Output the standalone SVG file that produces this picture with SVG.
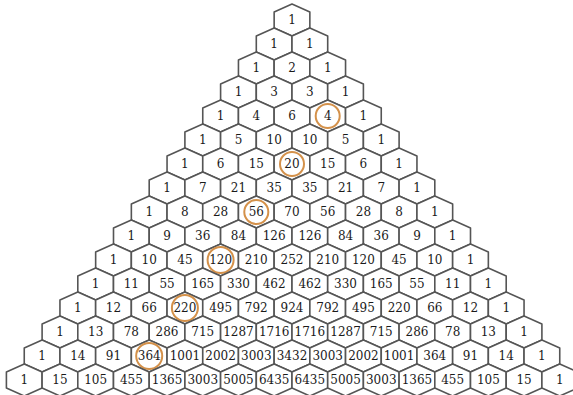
<svg xmlns="http://www.w3.org/2000/svg" xmlns:xlink="http://www.w3.org/1999/xlink" width="573" height="395" viewBox="0 0 573 395">
<style>
.h{fill:#fff;stroke:#555;stroke-width:1.6;stroke-linejoin:round}
.t{font-family:"DejaVu Serif","Liberation Serif",serif;font-size:12px;fill:#1a1a1a;text-anchor:middle}
.c{fill:none;stroke:#d4914a;stroke-width:2}
</style>
<defs>
<polygon id="hex" class="h" points="0,-16 17.85,-8 17.85,8 0,16 -17.85,8 -17.85,-8"/>
</defs>
<rect width="573" height="395" fill="#fff"/>
<g id="nodes">
<g id="n0-0" transform="translate(292,20)"><use xlink:href="#hex"/><text class="t" y="4.3">1</text></g>
<g id="n1-0" transform="translate(274.15,44)"><use xlink:href="#hex"/><text class="t" y="4.3">1</text></g>
<g id="n1-1" transform="translate(309.85,44)"><use xlink:href="#hex"/><text class="t" y="4.3">1</text></g>
<g id="n2-0" transform="translate(256.3,68)"><use xlink:href="#hex"/><text class="t" y="4.3">1</text></g>
<g id="n2-1" transform="translate(292,68)"><use xlink:href="#hex"/><text class="t" y="4.3">2</text></g>
<g id="n2-2" transform="translate(327.7,68)"><use xlink:href="#hex"/><text class="t" y="4.3">1</text></g>
<g id="n3-0" transform="translate(238.45,92)"><use xlink:href="#hex"/><text class="t" y="4.3">1</text></g>
<g id="n3-1" transform="translate(274.15,92)"><use xlink:href="#hex"/><text class="t" y="4.3">3</text></g>
<g id="n3-2" transform="translate(309.85,92)"><use xlink:href="#hex"/><text class="t" y="4.3">3</text></g>
<g id="n3-3" transform="translate(345.55,92)"><use xlink:href="#hex"/><text class="t" y="4.3">1</text></g>
<g id="n4-0" transform="translate(220.6,116)"><use xlink:href="#hex"/><text class="t" y="4.3">1</text></g>
<g id="n4-1" transform="translate(256.3,116)"><use xlink:href="#hex"/><text class="t" y="4.3">4</text></g>
<g id="n4-2" transform="translate(292,116)"><use xlink:href="#hex"/><text class="t" y="4.3">6</text></g>
<g id="n4-3" transform="translate(327.7,116)"><use xlink:href="#hex"/><circle class="c" r="12"/><text class="t" y="4.3">4</text></g>
<g id="n4-4" transform="translate(363.4,116)"><use xlink:href="#hex"/><text class="t" y="4.3">1</text></g>
<g id="n5-0" transform="translate(202.75,140)"><use xlink:href="#hex"/><text class="t" y="4.3">1</text></g>
<g id="n5-1" transform="translate(238.45,140)"><use xlink:href="#hex"/><text class="t" y="4.3">5</text></g>
<g id="n5-2" transform="translate(274.15,140)"><use xlink:href="#hex"/><text class="t" y="4.3">10</text></g>
<g id="n5-3" transform="translate(309.85,140)"><use xlink:href="#hex"/><text class="t" y="4.3">10</text></g>
<g id="n5-4" transform="translate(345.55,140)"><use xlink:href="#hex"/><text class="t" y="4.3">5</text></g>
<g id="n5-5" transform="translate(381.25,140)"><use xlink:href="#hex"/><text class="t" y="4.3">1</text></g>
<g id="n6-0" transform="translate(184.9,164)"><use xlink:href="#hex"/><text class="t" y="4.3">1</text></g>
<g id="n6-1" transform="translate(220.6,164)"><use xlink:href="#hex"/><text class="t" y="4.3">6</text></g>
<g id="n6-2" transform="translate(256.3,164)"><use xlink:href="#hex"/><text class="t" y="4.3">15</text></g>
<g id="n6-3" transform="translate(292,164)"><use xlink:href="#hex"/><circle class="c" r="12"/><text class="t" y="4.3">20</text></g>
<g id="n6-4" transform="translate(327.7,164)"><use xlink:href="#hex"/><text class="t" y="4.3">15</text></g>
<g id="n6-5" transform="translate(363.4,164)"><use xlink:href="#hex"/><text class="t" y="4.3">6</text></g>
<g id="n6-6" transform="translate(399.1,164)"><use xlink:href="#hex"/><text class="t" y="4.3">1</text></g>
<g id="n7-0" transform="translate(167.05,188)"><use xlink:href="#hex"/><text class="t" y="4.3">1</text></g>
<g id="n7-1" transform="translate(202.75,188)"><use xlink:href="#hex"/><text class="t" y="4.3">7</text></g>
<g id="n7-2" transform="translate(238.45,188)"><use xlink:href="#hex"/><text class="t" y="4.3">21</text></g>
<g id="n7-3" transform="translate(274.15,188)"><use xlink:href="#hex"/><text class="t" y="4.3">35</text></g>
<g id="n7-4" transform="translate(309.85,188)"><use xlink:href="#hex"/><text class="t" y="4.3">35</text></g>
<g id="n7-5" transform="translate(345.55,188)"><use xlink:href="#hex"/><text class="t" y="4.3">21</text></g>
<g id="n7-6" transform="translate(381.25,188)"><use xlink:href="#hex"/><text class="t" y="4.3">7</text></g>
<g id="n7-7" transform="translate(416.95,188)"><use xlink:href="#hex"/><text class="t" y="4.3">1</text></g>
<g id="n8-0" transform="translate(149.2,212)"><use xlink:href="#hex"/><text class="t" y="4.3">1</text></g>
<g id="n8-1" transform="translate(184.9,212)"><use xlink:href="#hex"/><text class="t" y="4.3">8</text></g>
<g id="n8-2" transform="translate(220.6,212)"><use xlink:href="#hex"/><text class="t" y="4.3">28</text></g>
<g id="n8-3" transform="translate(256.3,212)"><use xlink:href="#hex"/><circle class="c" r="12"/><text class="t" y="4.3">56</text></g>
<g id="n8-4" transform="translate(292,212)"><use xlink:href="#hex"/><text class="t" y="4.3">70</text></g>
<g id="n8-5" transform="translate(327.7,212)"><use xlink:href="#hex"/><text class="t" y="4.3">56</text></g>
<g id="n8-6" transform="translate(363.4,212)"><use xlink:href="#hex"/><text class="t" y="4.3">28</text></g>
<g id="n8-7" transform="translate(399.1,212)"><use xlink:href="#hex"/><text class="t" y="4.3">8</text></g>
<g id="n8-8" transform="translate(434.8,212)"><use xlink:href="#hex"/><text class="t" y="4.3">1</text></g>
<g id="n9-0" transform="translate(131.35,236)"><use xlink:href="#hex"/><text class="t" y="4.3">1</text></g>
<g id="n9-1" transform="translate(167.05,236)"><use xlink:href="#hex"/><text class="t" y="4.3">9</text></g>
<g id="n9-2" transform="translate(202.75,236)"><use xlink:href="#hex"/><text class="t" y="4.3">36</text></g>
<g id="n9-3" transform="translate(238.45,236)"><use xlink:href="#hex"/><text class="t" y="4.3">84</text></g>
<g id="n9-4" transform="translate(274.15,236)"><use xlink:href="#hex"/><text class="t" y="4.3">126</text></g>
<g id="n9-5" transform="translate(309.85,236)"><use xlink:href="#hex"/><text class="t" y="4.3">126</text></g>
<g id="n9-6" transform="translate(345.55,236)"><use xlink:href="#hex"/><text class="t" y="4.3">84</text></g>
<g id="n9-7" transform="translate(381.25,236)"><use xlink:href="#hex"/><text class="t" y="4.3">36</text></g>
<g id="n9-8" transform="translate(416.95,236)"><use xlink:href="#hex"/><text class="t" y="4.3">9</text></g>
<g id="n9-9" transform="translate(452.65,236)"><use xlink:href="#hex"/><text class="t" y="4.3">1</text></g>
<g id="n10-0" transform="translate(113.5,260)"><use xlink:href="#hex"/><text class="t" y="4.3">1</text></g>
<g id="n10-1" transform="translate(149.2,260)"><use xlink:href="#hex"/><text class="t" y="4.3">10</text></g>
<g id="n10-2" transform="translate(184.9,260)"><use xlink:href="#hex"/><text class="t" y="4.3">45</text></g>
<g id="n10-3" transform="translate(220.6,260)"><use xlink:href="#hex"/><circle class="c" r="13"/><text class="t" y="4.3">120</text></g>
<g id="n10-4" transform="translate(256.3,260)"><use xlink:href="#hex"/><text class="t" y="4.3">210</text></g>
<g id="n10-5" transform="translate(292,260)"><use xlink:href="#hex"/><text class="t" y="4.3">252</text></g>
<g id="n10-6" transform="translate(327.7,260)"><use xlink:href="#hex"/><text class="t" y="4.3">210</text></g>
<g id="n10-7" transform="translate(363.4,260)"><use xlink:href="#hex"/><text class="t" y="4.3">120</text></g>
<g id="n10-8" transform="translate(399.1,260)"><use xlink:href="#hex"/><text class="t" y="4.3">45</text></g>
<g id="n10-9" transform="translate(434.8,260)"><use xlink:href="#hex"/><text class="t" y="4.3">10</text></g>
<g id="n10-10" transform="translate(470.5,260)"><use xlink:href="#hex"/><text class="t" y="4.3">1</text></g>
<g id="n11-0" transform="translate(95.65,284)"><use xlink:href="#hex"/><text class="t" y="4.3">1</text></g>
<g id="n11-1" transform="translate(131.35,284)"><use xlink:href="#hex"/><text class="t" y="4.3">11</text></g>
<g id="n11-2" transform="translate(167.05,284)"><use xlink:href="#hex"/><text class="t" y="4.3">55</text></g>
<g id="n11-3" transform="translate(202.75,284)"><use xlink:href="#hex"/><text class="t" y="4.3">165</text></g>
<g id="n11-4" transform="translate(238.45,284)"><use xlink:href="#hex"/><text class="t" y="4.3">330</text></g>
<g id="n11-5" transform="translate(274.15,284)"><use xlink:href="#hex"/><text class="t" y="4.3">462</text></g>
<g id="n11-6" transform="translate(309.85,284)"><use xlink:href="#hex"/><text class="t" y="4.3">462</text></g>
<g id="n11-7" transform="translate(345.55,284)"><use xlink:href="#hex"/><text class="t" y="4.3">330</text></g>
<g id="n11-8" transform="translate(381.25,284)"><use xlink:href="#hex"/><text class="t" y="4.3">165</text></g>
<g id="n11-9" transform="translate(416.95,284)"><use xlink:href="#hex"/><text class="t" y="4.3">55</text></g>
<g id="n11-10" transform="translate(452.65,284)"><use xlink:href="#hex"/><text class="t" y="4.3">11</text></g>
<g id="n11-11" transform="translate(488.35,284)"><use xlink:href="#hex"/><text class="t" y="4.3">1</text></g>
<g id="n12-0" transform="translate(77.8,308)"><use xlink:href="#hex"/><text class="t" y="4.3">1</text></g>
<g id="n12-1" transform="translate(113.5,308)"><use xlink:href="#hex"/><text class="t" y="4.3">12</text></g>
<g id="n12-2" transform="translate(149.2,308)"><use xlink:href="#hex"/><text class="t" y="4.3">66</text></g>
<g id="n12-3" transform="translate(184.9,308)"><use xlink:href="#hex"/><circle class="c" r="13"/><text class="t" y="4.3">220</text></g>
<g id="n12-4" transform="translate(220.6,308)"><use xlink:href="#hex"/><text class="t" y="4.3">495</text></g>
<g id="n12-5" transform="translate(256.3,308)"><use xlink:href="#hex"/><text class="t" y="4.3">792</text></g>
<g id="n12-6" transform="translate(292,308)"><use xlink:href="#hex"/><text class="t" y="4.3">924</text></g>
<g id="n12-7" transform="translate(327.7,308)"><use xlink:href="#hex"/><text class="t" y="4.3">792</text></g>
<g id="n12-8" transform="translate(363.4,308)"><use xlink:href="#hex"/><text class="t" y="4.3">495</text></g>
<g id="n12-9" transform="translate(399.1,308)"><use xlink:href="#hex"/><text class="t" y="4.3">220</text></g>
<g id="n12-10" transform="translate(434.8,308)"><use xlink:href="#hex"/><text class="t" y="4.3">66</text></g>
<g id="n12-11" transform="translate(470.5,308)"><use xlink:href="#hex"/><text class="t" y="4.3">12</text></g>
<g id="n12-12" transform="translate(506.2,308)"><use xlink:href="#hex"/><text class="t" y="4.3">1</text></g>
<g id="n13-0" transform="translate(59.95,332)"><use xlink:href="#hex"/><text class="t" y="4.3">1</text></g>
<g id="n13-1" transform="translate(95.65,332)"><use xlink:href="#hex"/><text class="t" y="4.3">13</text></g>
<g id="n13-2" transform="translate(131.35,332)"><use xlink:href="#hex"/><text class="t" y="4.3">78</text></g>
<g id="n13-3" transform="translate(167.05,332)"><use xlink:href="#hex"/><text class="t" y="4.3">286</text></g>
<g id="n13-4" transform="translate(202.75,332)"><use xlink:href="#hex"/><text class="t" y="4.3">715</text></g>
<g id="n13-5" transform="translate(238.45,332)"><use xlink:href="#hex"/><text class="t" y="4.3">1287</text></g>
<g id="n13-6" transform="translate(274.15,332)"><use xlink:href="#hex"/><text class="t" y="4.3">1716</text></g>
<g id="n13-7" transform="translate(309.85,332)"><use xlink:href="#hex"/><text class="t" y="4.3">1716</text></g>
<g id="n13-8" transform="translate(345.55,332)"><use xlink:href="#hex"/><text class="t" y="4.3">1287</text></g>
<g id="n13-9" transform="translate(381.25,332)"><use xlink:href="#hex"/><text class="t" y="4.3">715</text></g>
<g id="n13-10" transform="translate(416.95,332)"><use xlink:href="#hex"/><text class="t" y="4.3">286</text></g>
<g id="n13-11" transform="translate(452.65,332)"><use xlink:href="#hex"/><text class="t" y="4.3">78</text></g>
<g id="n13-12" transform="translate(488.35,332)"><use xlink:href="#hex"/><text class="t" y="4.3">13</text></g>
<g id="n13-13" transform="translate(524.05,332)"><use xlink:href="#hex"/><text class="t" y="4.3">1</text></g>
<g id="n14-0" transform="translate(42.1,356)"><use xlink:href="#hex"/><text class="t" y="4.3">1</text></g>
<g id="n14-1" transform="translate(77.8,356)"><use xlink:href="#hex"/><text class="t" y="4.3">14</text></g>
<g id="n14-2" transform="translate(113.5,356)"><use xlink:href="#hex"/><text class="t" y="4.3">91</text></g>
<g id="n14-3" transform="translate(149.2,356)"><use xlink:href="#hex"/><circle class="c" r="13"/><text class="t" y="4.3">364</text></g>
<g id="n14-4" transform="translate(184.9,356)"><use xlink:href="#hex"/><text class="t" y="4.3">1001</text></g>
<g id="n14-5" transform="translate(220.6,356)"><use xlink:href="#hex"/><text class="t" y="4.3">2002</text></g>
<g id="n14-6" transform="translate(256.3,356)"><use xlink:href="#hex"/><text class="t" y="4.3">3003</text></g>
<g id="n14-7" transform="translate(292,356)"><use xlink:href="#hex"/><text class="t" y="4.3">3432</text></g>
<g id="n14-8" transform="translate(327.7,356)"><use xlink:href="#hex"/><text class="t" y="4.3">3003</text></g>
<g id="n14-9" transform="translate(363.4,356)"><use xlink:href="#hex"/><text class="t" y="4.3">2002</text></g>
<g id="n14-10" transform="translate(399.1,356)"><use xlink:href="#hex"/><text class="t" y="4.3">1001</text></g>
<g id="n14-11" transform="translate(434.8,356)"><use xlink:href="#hex"/><text class="t" y="4.3">364</text></g>
<g id="n14-12" transform="translate(470.5,356)"><use xlink:href="#hex"/><text class="t" y="4.3">91</text></g>
<g id="n14-13" transform="translate(506.2,356)"><use xlink:href="#hex"/><text class="t" y="4.3">14</text></g>
<g id="n14-14" transform="translate(541.9,356)"><use xlink:href="#hex"/><text class="t" y="4.3">1</text></g>
<g id="n15-0" transform="translate(24.25,380)"><use xlink:href="#hex"/><text class="t" y="4.3">1</text></g>
<g id="n15-1" transform="translate(59.95,380)"><use xlink:href="#hex"/><text class="t" y="4.3">15</text></g>
<g id="n15-2" transform="translate(95.65,380)"><use xlink:href="#hex"/><text class="t" y="4.3">105</text></g>
<g id="n15-3" transform="translate(131.35,380)"><use xlink:href="#hex"/><text class="t" y="4.3">455</text></g>
<g id="n15-4" transform="translate(167.05,380)"><use xlink:href="#hex"/><text class="t" y="4.3">1365</text></g>
<g id="n15-5" transform="translate(202.75,380)"><use xlink:href="#hex"/><text class="t" y="4.3">3003</text></g>
<g id="n15-6" transform="translate(238.45,380)"><use xlink:href="#hex"/><text class="t" y="4.3">5005</text></g>
<g id="n15-7" transform="translate(274.15,380)"><use xlink:href="#hex"/><text class="t" y="4.3">6435</text></g>
<g id="n15-8" transform="translate(309.85,380)"><use xlink:href="#hex"/><text class="t" y="4.3">6435</text></g>
<g id="n15-9" transform="translate(345.55,380)"><use xlink:href="#hex"/><text class="t" y="4.3">5005</text></g>
<g id="n15-10" transform="translate(381.25,380)"><use xlink:href="#hex"/><text class="t" y="4.3">3003</text></g>
<g id="n15-11" transform="translate(416.95,380)"><use xlink:href="#hex"/><text class="t" y="4.3">1365</text></g>
<g id="n15-12" transform="translate(452.65,380)"><use xlink:href="#hex"/><text class="t" y="4.3">455</text></g>
<g id="n15-13" transform="translate(488.35,380)"><use xlink:href="#hex"/><text class="t" y="4.3">105</text></g>
<g id="n15-14" transform="translate(524.05,380)"><use xlink:href="#hex"/><text class="t" y="4.3">15</text></g>
<g id="n15-15" transform="translate(559.75,380)"><use xlink:href="#hex"/><text class="t" y="4.3">1</text></g>
</g>
</svg>
